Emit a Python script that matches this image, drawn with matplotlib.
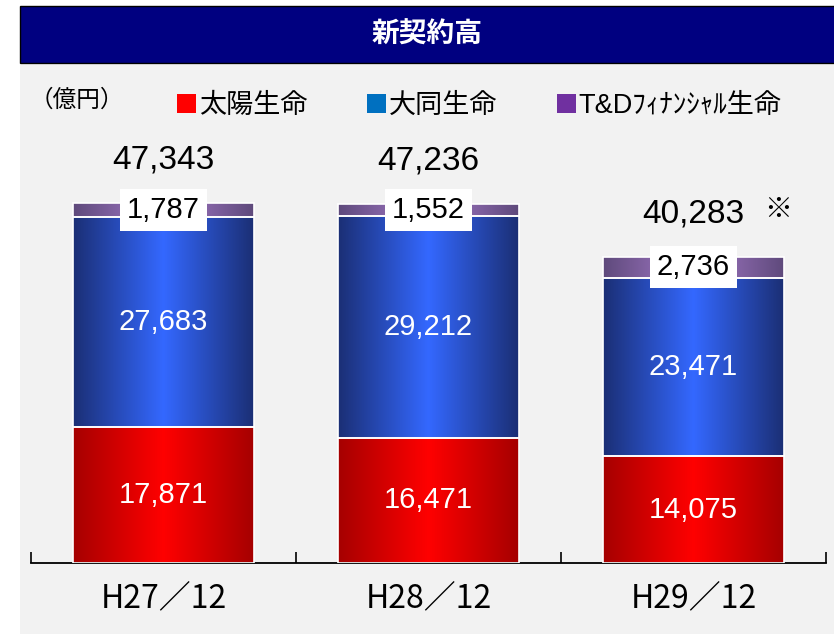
import numpy as np
import matplotlib.pyplot as plt
from matplotlib.colors import LinearSegmentedColormap
from matplotlib.patches import Rectangle, Patch

plt.rcParams['font.family'] = ['Liberation Sans', 'Noto Sans CJK JP']

# data
periods = ['H27／12', 'H28／12', 'H29／12']
taiyo = [17871, 16471, 14075]
daido = [27683, 29212, 23471]
td_fin = [1787, 1552, 2736]
totals = [47343, 47236, 40283]
series_names = ['太陽生命', '大同生命', 'T&Dﾌｨﾅﾝｼｬﾙ生命']

legend_colors = ['#ff0000', '#0070c0', '#7030a0']
# (edge, centre) colours for the horizontal gradient
grad = [('#a50000', '#ff0000'), ('#1b2f75', '#3468ff'), ('#5f4a7c', '#a87ccc')]

fig = plt.figure(figsize=(8.34, 6.34), dpi=100, facecolor='white')
W, H = 834, 634

# grey panel + title bar
fig.patches.append(Rectangle((20 / W, 0), 1, (H - 65) / H, transform=fig.transFigure,
                             facecolor='#f2f2f2', edgecolor='none', zorder=-2))
fig.patches.append(Rectangle((20 / W, (H - 63) / H), 1, 57 / H, transform=fig.transFigure,
                             facecolor='#000080', edgecolor='black', lw=1, zorder=-1))
fig.text((20 + W) / 2 / W, (H - 36) / H, '新契約高', color='white', fontsize=20,
         fontweight='bold', ha='center', va='center')
fig.text(30 / W, (H - 100) / H, '（億円）', fontsize=17, ha='left', va='center',
         family='Noto Sans CJK JP')

handles = [Patch(facecolor=c, edgecolor='none') for c in legend_colors]
fig.legend(handles, series_names, loc='center', bbox_to_anchor=(0.575, (H - 106) / H),
           ncol=3, frameon=False, fontsize=19.5, handlelength=0.7, handleheight=0.7,
           handletextpad=0.1, columnspacing=2.2)

ax = fig.add_axes([31 / W, (H - 563) / H, 795 / W, 456 / H])
ax.set_facecolor('none')

x = np.arange(len(periods))
width = 0.683
bottoms = np.zeros(len(periods))
grad_img = np.linspace(0, 1, 256).reshape(1, -1)

for vals, (edge, mid) in zip([taiyo, daido, td_fin], grad):
    bars = ax.bar(x, vals, width, bottom=bottoms, facecolor='none',
                  edgecolor='white', linewidth=1.2, zorder=3)
    cmap = LinearSegmentedColormap.from_list('g', [edge, mid, edge])
    for b in bars:
        x0, y0 = b.get_x(), b.get_y()
        ax.imshow(grad_img, cmap=cmap, aspect='auto', zorder=2,
                  extent=(x0, x0 + b.get_width(), y0, y0 + b.get_height()))
    bottoms += np.array(vals)

for i in range(len(periods)):
    ax.text(x[i], taiyo[i] / 2, f'{taiyo[i]:,}', color='white', fontsize=21,
            ha='center', va='center', zorder=5)
    ax.text(x[i], taiyo[i] + daido[i] / 2, f'{daido[i]:,}', color='white', fontsize=21,
            ha='center', va='center', zorder=5)
    ax.text(x[i], taiyo[i] + daido[i] + td_fin[i] / 2, f'{td_fin[i]:,}', color='black',
            fontsize=21, ha='center', va='center', zorder=5,
            bbox=dict(facecolor='white', edgecolor='none', pad=5))
    ax.annotate(f'{totals[i]:,}', (x[i], totals[i]), xytext=(0, 31), textcoords='offset points',
                fontsize=24, ha='center', va='center')
ax.annotate('※', (x[2], totals[2]), xytext=(61, 34), textcoords='offset points',
            fontsize=20, ha='center', va='center', family='Noto Sans CJK JP')

ax.set_xlim(-0.5, 2.5)
ax.set_ylim(0, 60000)
ax.set_yticks([])
ax.set_xticks(x)
ax.set_xticklabels(periods, fontsize=23, family='Noto Sans CJK JP')
ax.set_xticks([-0.5, 0.5, 1.5, 2.5], minor=True)
ax.tick_params(axis='x', which='major', length=0, pad=14)
ax.tick_params(axis='x', which='minor', direction='in', length=8, width=1.2)
for s in ['top', 'left', 'right']:
    ax.spines[s].set_visible(False)
ax.spines['bottom'].set_linewidth(1.3)

fig.savefig('out.png', dpi=100)
